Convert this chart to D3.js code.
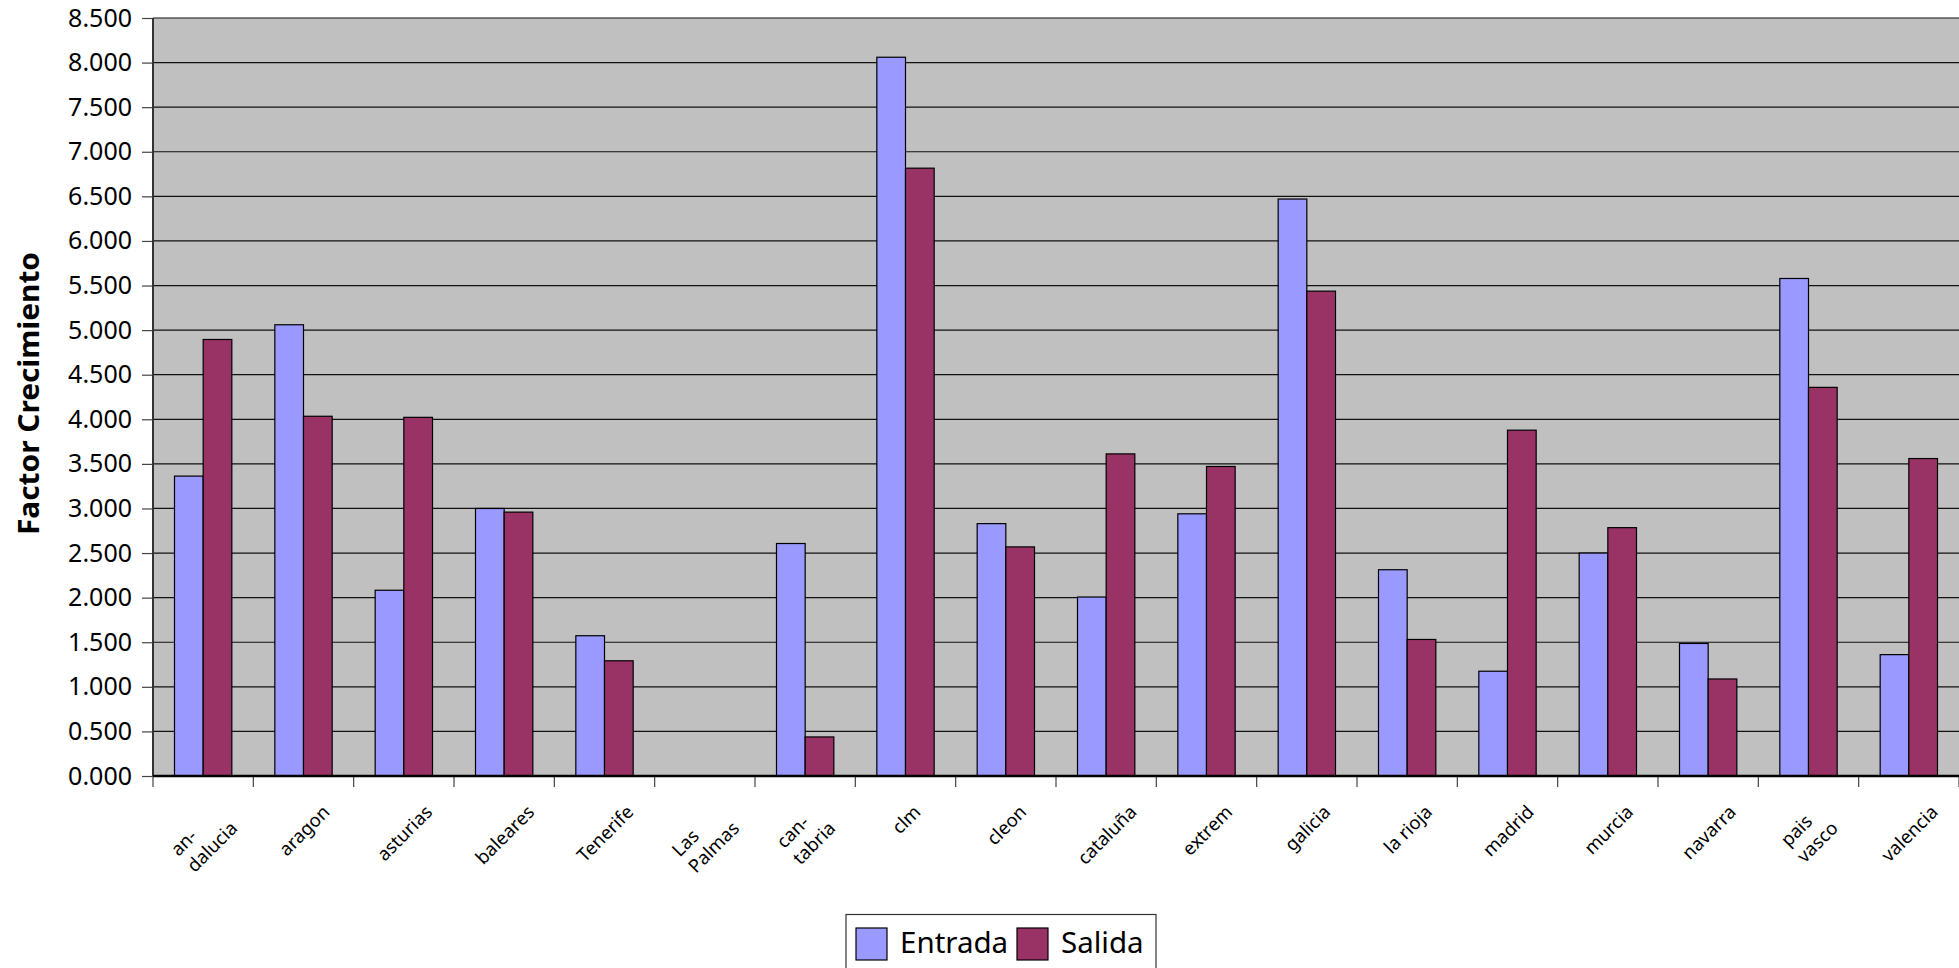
<!DOCTYPE html>
<html>
<head>
<meta charset="utf-8">
<script src="https://cdn.jsdelivr.net/npm/d3@7"></script>
<style>
  html, body { margin: 0; padding: 0; background: #fff; }
  svg { display: block; }
  text { font-family: "Noto Sans", "DejaVu Sans", sans-serif; fill: #000; }
</style>
</head>
<body>
<svg id="chart" width="1959" height="968"></svg>
<script>
// ---- data ----
const categories = ["an-\ndalucia", "aragon", "asturias", "baleares", "Tenerife", "Las\nPalmas",
  "can-\ntabria", "clm", "cleon", "cataluña", "extrem", "galicia", "la rioja", "madrid",
  "murcia", "navarra", "pais\nvasco", "valencia"];
const seriesNames = ["Entrada", "Salida"];
const entrada = [3.363, 5.06, 2.083, 3.0, 1.573, 0, 2.607, 8.06, 2.83, 2.007, 2.94, 6.47, 2.313, 1.175, 2.5, 1.486, 5.579, 1.361];
const salida  = [4.895, 4.034, 4.022, 2.959, 1.292, 0, 0.438, 6.816, 2.569, 3.612, 3.471, 5.437, 1.531, 3.878, 2.785, 1.088, 4.358, 3.56];
const yTicks = [0, 0.5, 1, 1.5, 2, 2.5, 3, 3.5, 4, 4.5, 5, 5.5, 6, 6.5, 7, 7.5, 8, 8.5];
const yTitle = "Factor Crecimiento";
const colors = ["#9999ff", "#993366"];

// ---- layout ----
const svg = d3.select("#chart");
const pL = 153, pR = 1959, pT = 18, pB = 776;

const x = d3.scaleBand().domain(categories).range([pL, pR]).paddingInner(0).paddingOuter(0);
const sub = d3.scaleBand().domain(seriesNames).range([x.bandwidth() * 1.5 / 7, x.bandwidth() * 5.5 / 7]).padding(0);
const y = d3.scaleLinear().domain([0, 8.5]).range([pB, pT]);

// plot background
svg.append("rect").attr("x", pL).attr("y", pT).attr("width", pR - pL).attr("height", pB - pT)
  .attr("fill", "#c0c0c0");

// gridlines
svg.append("g").selectAll("line").data(yTicks.filter(d => d > 0)).join("line")
  .attr("x1", pL).attr("x2", pR)
  .attr("y1", d => y(d)).attr("y2", d => y(d))
  .attr("stroke", "#111").attr("stroke-width", 1.2);

// y axis
const yAxis = d3.axisLeft(y).tickValues(yTicks).tickFormat(d3.format(".3f")).tickSize(11).tickPadding(10);
const gy = svg.append("g").attr("transform", `translate(${pL},0)`).call(yAxis);
gy.select(".domain").remove();
gy.selectAll(".tick line").attr("stroke", "#444").attr("stroke-width", 1.2);
gy.selectAll(".tick text").attr("font-size", 25).attr("font-family", "Noto Sans").attr("fill", "#000");
svg.append("line").attr("x1", pL).attr("x2", pL).attr("y1", pT).attr("y2", pB)
  .attr("stroke", "#333").attr("stroke-width", 2);

// bars
const data = categories.map((c, i) => ({ c, vals: [entrada[i], salida[i]] }));
const groups = svg.append("g").selectAll("g").data(data).join("g")
  .attr("transform", d => `translate(${x(d.c)},0)`);
groups.selectAll("rect").data(d => d.vals.map((v, j) => ({ v, s: seriesNames[j], j })).filter(d => d.v > 0))
  .join("rect")
  .attr("x", d => sub(d.s)).attr("width", sub.bandwidth())
  .attr("y", d => y(d.v)).attr("height", d => y(0) - y(d.v))
  .attr("fill", d => colors[d.j]).attr("stroke", "#000").attr("stroke-width", 1.2);

// x axis
const boundaries = categories.map(c => x(c)).concat([pR]);
svg.append("g").selectAll("line").data(boundaries).join("line")
  .attr("x1", d => d).attr("x2", d => d).attr("y1", pB).attr("y2", pB + 11)
  .attr("stroke", "#444").attr("stroke-width", 1.2);
svg.append("line").attr("x1", pL).attr("x2", pR).attr("y1", pB).attr("y2", pB)
  .attr("stroke", "#000").attr("stroke-width", 2.4);

// category labels
const labelTop = 799;
categories.forEach(c => {
  const g = svg.append("g");
  const t = g.append("text").attr("transform", "rotate(-45)").attr("font-size", 18.5).attr("text-anchor", "start");
  c.split("\n").forEach((line, k) => {
    t.append("tspan").attr("x", 0).attr("dy", k === 0 ? 0 : 23).text(line);
  });
  const bb = g.node().getBBox();
  const cx = x(c) + x.bandwidth() / 2;
  g.attr("transform", `translate(${cx - (bb.x + bb.width / 2)},${labelTop - bb.y})`);
});

// y title
svg.append("text").attr("transform", `translate(39,${(252 + 535) / 2}) rotate(-90)`)
  .attr("text-anchor", "middle").attr("font-size", 29).attr("font-weight", "bold")
  .attr("textLength", 283).attr("lengthAdjust", "spacingAndGlyphs")
  .text(yTitle);

// legend
const lg = svg.append("g");
lg.append("rect").attr("x", 846).attr("y", 914.5).attr("width", 310).attr("height", 70)
  .attr("fill", "#fff").attr("stroke", "#333").attr("stroke-width", 1.2);
const legendItems = [{ name: seriesNames[0], sx: 856, tx: 900 }, { name: seriesNames[1], sx: 1017, tx: 1061 }];
legendItems.forEach((it, i) => {
  lg.append("rect").attr("x", it.sx).attr("y", 928).attr("width", 31).attr("height", 32)
    .attr("fill", colors[i]).attr("stroke", "#000").attr("stroke-width", 1.2);
  lg.append("text").attr("x", it.tx).attr("y", 953).attr("font-size", 29.5).text(it.name);
});
</script>
</body>
</html>
